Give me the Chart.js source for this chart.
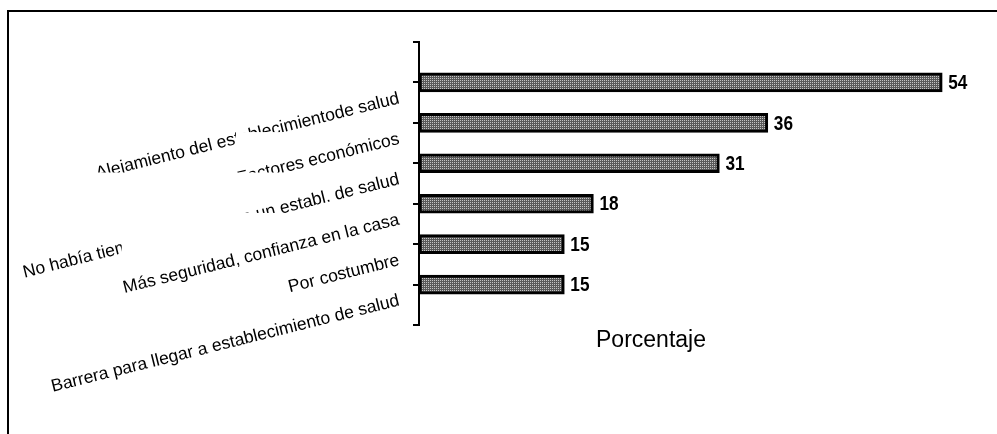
<!DOCTYPE html>
<html>
<head>
<meta charset="utf-8">
<script src="https://cdn.jsdelivr.net/npm/chart.js@4.4.1/dist/chart.umd.min.js"></script>
<style>
  html, body { margin: 0; padding: 0; background: #fff; overflow: hidden; }
  #wrap { position: relative; width: 997px; height: 434px; }
  #frame { position: absolute; left: 7px; top: 10px; width: 1100px; height: 600px;
           border-left: 2px solid #000; border-top: 2px solid #000; pointer-events: none; }
</style>
</head>
<body>
<div id="wrap">
  <canvas id="c" width="997" height="434"></canvas>
  <div id="frame"></div>
</div>
<script>
// ---- data ----
const categories = [
  "Alejamiento del establecimientode salud",
  "Factores económicos",
  "No había tiempo para acudir a un establ. de salud",
  "Más seguridad, confianza en la casa",
  "Por costumbre",
  "Barrera para llegar a establecimiento de salud"
];
const values = [54, 36, 31, 18, 15, 15];
const axisTitle = "Porcentaje";
const xMin = 0;
const xMax = 58;

// padded category axis (empty end slots give the bracket-shaped end ticks)
const axisLabels = [""].concat(categories, [""]);
const axisValues = [null].concat(values, [null]);

// dotted bar fill
function makePattern() {
  const p = document.createElement('canvas');
  p.width = 2; p.height = 2;
  const g = p.getContext('2d');
  g.fillStyle = '#5a5a5a'; g.fillRect(0, 0, 2, 2);
  g.fillStyle = '#c4c4c4'; g.fillRect(0, 0, 1, 1);
  return g.createPattern(p, 'repeat');
}

const LABEL_FONT = '17.5px "Liberation Sans", Arial, sans-serif';
const ANGLE = -14 * Math.PI / 180;

const categoryLabelPlugin = {
  id: 'categoryLabels',
  afterDraw(chart) {
    const ctx = chart.ctx;
    const ys = chart.scales.y;
    const left = chart.chartArea.left;
    ctx.save();
    ctx.font = LABEL_FONT;
    for (let i = 0; i < categories.length; i++) {
      const text = categories[i];
      const py = ys.getPixelForValue(i + 1) + 16;
      const px = left - 20;
      const w = ctx.measureText(text).width;
      const up = 7, down = 5;
      // axis-aligned bounding box of the rotated text box (white backing)
      const pts = [[-w, -up], [0, -up], [0, down], [-w, down]].map(([a, b]) => [
        px + a * Math.cos(ANGLE) - b * Math.sin(ANGLE),
        py + a * Math.sin(ANGLE) + b * Math.cos(ANGLE)
      ]);
      const xs = pts.map(p => p[0]), yv = pts.map(p => p[1]);
      const bx0 = Math.min(...xs), bx1 = Math.max(...xs);
      const by0 = Math.min(...yv), by1 = Math.max(...yv);
      ctx.fillStyle = '#fff';
      ctx.fillRect(bx0, by0, bx1 - bx0, by1 - by0);
      ctx.save();
      ctx.translate(px, py);
      ctx.rotate(ANGLE);
      ctx.fillStyle = '#000';
      ctx.textAlign = 'right';
      ctx.textBaseline = 'middle';
      ctx.fillText(text, 0, 0);
      ctx.restore();
    }
    // axis title
    ctx.font = '23px "Liberation Sans", Arial, sans-serif';
    ctx.fillStyle = '#000';
    ctx.textAlign = 'center';
    ctx.textBaseline = 'alphabetic';
    ctx.fillText(axisTitle, 651, 347);
    ctx.restore();
  }
};

const valueLabelPlugin = {
  id: 'valueLabels',
  afterDatasetsDraw(chart) {
    const ctx = chart.ctx;
    const meta = chart.getDatasetMeta(0);
    ctx.save();
    ctx.font = 'bold 20.5px "Liberation Sans", Arial, sans-serif';
    ctx.fillStyle = '#000';
    ctx.textAlign = 'left';
    ctx.textBaseline = 'middle';
    meta.data.forEach((el, i) => {
      const v = axisValues[i];
      if (v === null) return;
      ctx.save();
      ctx.translate(el.x + 6, el.y + 1);
      ctx.scale(0.84, 1);
      ctx.fillText(String(v), 0, 0);
      ctx.restore();
    });
    ctx.restore();
  }
};

new Chart(document.getElementById('c'), {
  type: 'bar',
  data: {
    labels: axisLabels,
    datasets: [{
      data: axisValues,
      backgroundColor: makePattern(),
      borderColor: '#000',
      borderWidth: 3,
      borderSkipped: false,
      barThickness: 19
    }]
  },
  options: {
    indexAxis: 'y',
    responsive: false,
    animation: false,
    layout: { padding: { top: 42, bottom: 109, right: 16, left: 0 } },
    plugins: { legend: { display: false }, tooltip: { enabled: false } },
    scales: {
      x: { display: false, min: xMin, max: xMax },
      y: {
        offset: false,
        grid: { offset: false, drawOnChartArea: false, drawTicks: true, tickLength: 6, color: '#000', lineWidth: 2 },
        border: { display: true, color: '#000', width: 2 },
        ticks: { display: false },
        afterFit(scale) { scale.width = 419; }
      }
    }
  },
  plugins: [valueLabelPlugin, categoryLabelPlugin]
});
</script>
</body>
</html>
